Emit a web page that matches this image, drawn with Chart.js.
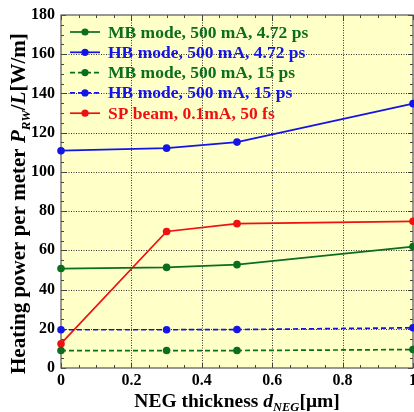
<!DOCTYPE html>
<html>
<head>
<meta charset="utf-8">
<script src="https://cdn.jsdelivr.net/npm/chart.js@4.4.1/dist/chart.umd.min.js"></script>
<style>
html,body{margin:0;padding:0;background:#fff;}
#wrap{width:414px;height:412px;position:relative;}
</style>
</head>
<body>
<div id="wrap"><canvas id="c" width="414" height="412"></canvas></div>
<script>
// ---- data ----
const thickness = [0, 0.3, 0.5, 1];
const mb472 = [50.7, 51.3, 52.7, 61.9];
const hb472 = [110.8, 112.1, 115.2, 134.8];
const mb15 = [8.9, 8.9, 8.9, 9.4];
const hb15 = [19.5, 19.5, 19.6, 20.5];
const spBeam = [12.4, 69.6, 73.6, 74.8];
const seriesLabels = [
  "MB mode, 500 mA, 4.72 ps",
  "HB mode, 500 mA, 4.72 ps",
  "MB mode, 500 mA, 15 ps",
  "HB mode, 500 mA, 15 ps",
  "SP beam, 0.1mA, 50 fs"
];
const xTickValues = [0, 0.2, 0.4, 0.6, 0.8, 1];
const yTickValues = [0, 20, 40, 60, 80, 100, 120, 140, 160, 180];

const GREEN = "#0a6e1e", BLUE = "#1414e6", RED = "#ee1111";
const SERIF = '"Liberation Serif", "Times New Roman", serif';

function pts(ys){ return thickness.map((x,i)=>({x:x, y:ys[i]})); }
function ds(label, ys, color, dash){
  return {label, data: pts(ys), borderColor: color, backgroundColor: color,
    borderWidth: 1.7, borderDash: dash, pointRadius: 3.8, pointHoverRadius: 3.8,
    pointBorderWidth: 0, tension: 0, showLine: true, clip: false};
}
const noPad = s => {
  s.paddingLeft = 0; s.paddingRight = 0; s.paddingTop = 0; s.paddingBottom = 0;
};

const decor = {
  id: 'decor',
  beforeDraw(chart){
    const {ctx, chartArea:a} = chart;
    ctx.save();
    ctx.fillStyle = '#ffffc8';
    ctx.fillRect(a.left, a.top, a.right-a.left, a.bottom-a.top);
    ctx.restore();
  },
  beforeDatasetsDraw(chart){
    const {ctx, chartArea:a, scales:{x, y}} = chart;
    ctx.save();
    ctx.strokeStyle = '#333';
    ctx.lineWidth = 1;
    ctx.setLineDash([1,1.5]);
    xTickValues.forEach(v=>{
      const px = Math.round(x.getPixelForValue(v))+0.5;
      if (px <= a.left+1 || px >= a.right-1) return;
      ctx.beginPath(); ctx.moveTo(px, a.top); ctx.lineTo(px, a.bottom); ctx.stroke();
    });
    yTickValues.forEach(v=>{
      const py = Math.round(y.getPixelForValue(v))+0.5;
      if (py <= a.top+1 || py >= a.bottom-1) return;
      ctx.beginPath(); ctx.moveTo(a.left, py); ctx.lineTo(a.right, py); ctx.stroke();
    });
    ctx.setLineDash([]);
    ctx.strokeStyle = '#444';
    for (let v=0; v<=1.0001; v+=0.05){
      const px = Math.round(x.getPixelForValue(v))+0.5;
      const major = Math.abs(v*5 - Math.round(v*5)) < 1e-6;
      const len = major ? 5 : 3;
      ctx.beginPath();
      ctx.moveTo(px, a.bottom); ctx.lineTo(px, a.bottom-len);
      ctx.moveTo(px, a.top); ctx.lineTo(px, a.top+len);
      ctx.stroke();
    }
    for (let v=0; v<=180; v+=5){
      const py = Math.round(y.getPixelForValue(v))+0.5;
      const len = (v%20===0) ? 5 : 3;
      ctx.beginPath();
      ctx.moveTo(a.left, py); ctx.lineTo(a.left+len, py);
      ctx.moveTo(a.right, py); ctx.lineTo(a.right-len, py);
      ctx.stroke();
    }
    ctx.lineWidth = 1.2;
    ctx.strokeStyle = '#555';
    ctx.strokeRect(a.left, a.top, a.right-a.left, a.bottom-a.top);
    ctx.restore();
  },
  afterDraw(chart){
    const {ctx, chartArea:a} = chart;
    ctx.save();
    // legend
    const lx0 = 70, lx1 = 100, tx = 108;
    let ly = 32;
    chart.data.datasets.forEach(d=>{
      ctx.strokeStyle = d.borderColor; ctx.fillStyle = d.borderColor;
      ctx.lineWidth = 1.7;
      ctx.setLineDash(d.borderDash || []);
      ctx.beginPath(); ctx.moveTo(lx0, ly); ctx.lineTo(lx1, ly); ctx.stroke();
      ctx.setLineDash([]);
      ctx.beginPath(); ctx.arc((lx0+lx1)/2, ly, 3.6, 0, Math.PI*2); ctx.fill();
      ctx.font = 'bold 17.5px ' + SERIF;
      ctx.textBaseline = 'middle'; ctx.textAlign = 'left';
      ctx.fillText(d.label, tx, ly+1);
      ly += 20.3;
    });
    function drawRich(parts, cx, cy, rot, anchorStart){
      ctx.save();
      ctx.translate(cx, cy); ctx.rotate(rot);
      let w = 0;
      parts.forEach(p=>{ ctx.font = p.f; w += ctx.measureText(p.t).width; });
      let xx = anchorStart ? 0 : -w/2;
      ctx.textBaseline = 'alphabetic'; ctx.textAlign = 'left'; ctx.fillStyle = '#000';
      parts.forEach(p=>{ ctx.font = p.f; ctx.fillText(p.t, xx, p.dy||0); xx += ctx.measureText(p.t).width; });
      ctx.restore();
    }
    const YB = 'bold 21px ' + SERIF, YBI = 'italic bold 21px ' + SERIF, YSUB = 'italic bold 13px ' + SERIF;
    drawRich([
      {t:'Heating power per meter ', f:YB},
      {t:'P', f:YBI}, {t:'RW', f:YSUB, dy:5}, {t:'/', f:YB}, {t:'L', f:YBI}, {t:'[W/m]', f:YB}
    ], 25, 374, -Math.PI/2, true);
    const B = 'bold 19.5px ' + SERIF, BI = 'italic bold 19.5px ' + SERIF, SUB = 'italic bold 12.5px ' + SERIF;
    drawRich([
      {t:'NEG thickness ', f:B}, {t:'d', f:BI}, {t:'NEG', f:SUB, dy:4}, {t:'[\u03bcm]', f:B}
    ], (a.left+a.right)/2, 407, 0, false);
    ctx.restore();
  }
};

new Chart(document.getElementById('c'), {
  type: 'scatter',
  data: { datasets: [
    ds(seriesLabels[0], mb472, GREEN, []),
    ds(seriesLabels[1], hb472, BLUE, []),
    ds(seriesLabels[2], mb15, GREEN, [5,3]),
    ds(seriesLabels[3], hb15, BLUE, [5,3]),
    ds(seriesLabels[4], spBeam, RED, [])
  ]},
  options: {
    responsive: false, animation: false, devicePixelRatio: 1,
    layout: { autoPadding: false, padding: { top: 15, right: 1, left: 0, bottom: 0 } },
    plugins: { legend: { display: false }, tooltip: { enabled: false } },
    scales: {
      x: {
        type: 'linear', min: 0, max: 1,
        afterBuildTicks: s => { s.ticks = xTickValues.map(v=>({value:v})); },
        afterFit: s => { s.height = 44; noPad(s); },
        grid: { display: false, drawTicks: false }, border: { display: false },
        ticks: { padding: 3, color: '#000', maxRotation: 0,
          font: { family: SERIF, weight: 'bold', size: 16 },
          callback: v => String(v) }
      },
      y: {
        type: 'linear', min: 0, max: 180,
        afterBuildTicks: s => { s.ticks = yTickValues.map(v=>({value:v})); },
        afterFit: s => { s.width = 61; noPad(s); },
        grid: { display: false, drawTicks: false }, border: { display: false },
        ticks: { padding: 6, color: '#000',
          font: { family: SERIF, weight: 'bold', size: 16 } }
      }
    }
  },
  plugins: [decor]
});
</script>
</body>
</html>
